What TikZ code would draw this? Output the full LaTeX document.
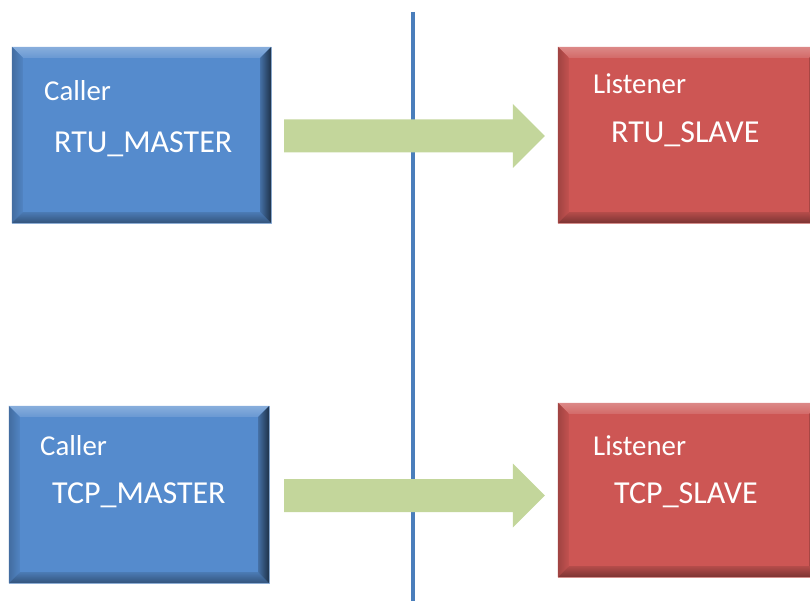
\documentclass[tikz,border=0pt]{standalone}
\usepackage{fontspec}
\setmainfont{Carlito}
\usetikzlibrary{calc,positioning}
\definecolor{colorcaller}{HTML}{558BCD}
\definecolor{colorlisten}{HTML}{CD5654}
\definecolor{colorflow}{HTML}{C3D69B}
\definecolor{colorwire}{HTML}{4A7EBB}
\tikzset{
  boxcaller/.style={fill=colorcaller, draw=colorcaller!60!white, inner sep=0pt, minimum width=259pt, minimum height=176pt},
  boxlisten/.style={fill=colorlisten, draw=colorlisten!60!white, inner sep=0pt, minimum width=262pt, minimum height=176pt},
  role/.style={white, inner sep=0pt, anchor=base west, font=\fontsize{28.8}{32}\selectfont},
  ident/.style={white, inner sep=0pt, anchor=base west, font=\fontsize{32}{36}\selectfont},
  wire/.style={colorwire, line width=4pt},
  flow/.style={fill=colorflow}
}
% raised edge round a box
\newcommand\bevel[2]{%
  \coordinate (#1-a) at ([shift={(11pt,-11pt)}]#1.north west);
  \coordinate (#1-b) at ([shift={(-11pt,-11pt)}]#1.north east);
  \coordinate (#1-c) at ([shift={(-11pt,11pt)}]#1.south east);
  \coordinate (#1-d) at ([shift={(11pt,11pt)}]#1.south west);
  \shade[top color=#2!70!white, bottom color=#2!88!white] (#1.north west) -- (#1.north east) -- (#1-b) -- (#1-a) -- cycle;
  \shade[left color=#2!78!black, right color=#2!95!black] (#1.north west) -- (#1-a) -- (#1-d) -- (#1.south west) -- cycle;
  \shade[top color=#2!88!black, bottom color=#2!60!black] (#1-d) -- (#1-c) -- (#1.south east) -- (#1.south west) -- cycle;
  \shade[left color=#2!80!black, right color=#2!35!black] (#1-b) -- (#1.north east) -- (#1.south east) -- (#1-c) -- cycle;
}
% fat arrow from #1 to #2
\newcommand\flowarrow[2]{%
  \fill[flow] ($(#1)+(0,-16.5)$) -- ($(#2)+(-32,-16.5)$) -- ($(#2)+(-32,-32)$) -- (#2)
    -- ($(#2)+(-32,32)$) -- ($(#2)+(-32,16.5)$) -- ($(#1)+(0,16.5)$) -- cycle;
}

\begin{document}
\begin{tikzpicture}[x=1pt, y=-1pt]
\useasboundingbox (0,0) rectangle (810,601);

\node[boxcaller] (rm) at (141.5,135) {};
\node[boxlisten] (rs) at (689,135) {};
\node[boxcaller, minimum width=260pt, minimum height=177pt] (tm) at (139,494.5) {};
\node[boxlisten, minimum height=174pt] (ts) at (689,490) {};
\bevel{rm}{colorcaller}
\bevel{rs}{colorlisten}
\bevel{tm}{colorcaller}
\bevel{ts}{colorlisten}

\node[role] (rmr) at (44,101) {Caller};
\node[ident] (rmn) at (54,153) {RTU\_MASTER};
\node[role] (rsr) at (593,94) {Listener};
\node[ident] (rsn) at (611,143) {RTU\_SLAVE};
\node[role] (tmr) at (40,455) {Caller};
\node[ident] (tmn) at (52,503) {TCP\_MASTER};
\node[role] (tsr) at (593,455) {Listener};
\node[ident] (tsn) at (614,503) {TCP\_SLAVE};

\coordinate (top) at (413,12);
\coordinate (bot) at (413,601);
\draw[wire] (top) -- (bot);

\coordinate (f1s) at ([xshift=13pt]rm.east |- 0,136);
\coordinate (f1t) at ([xshift=-13pt]rs.west |- 0,136);
\coordinate (f2s) at ([xshift=13pt]rm.east |- 0,495.5);
\coordinate (f2t) at ([xshift=-13pt]rs.west |- 0,495.5);
\flowarrow{f1s}{f1t}
\flowarrow{f2s}{f2t}
\end{tikzpicture}
\end{document}
